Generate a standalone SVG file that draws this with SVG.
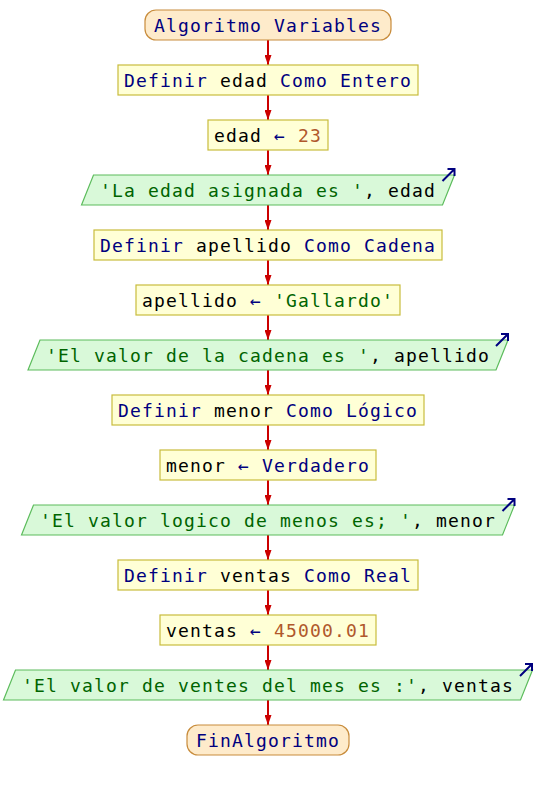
<svg xmlns="http://www.w3.org/2000/svg" width="536" height="790" viewBox="0 0 536 790">
  <style>
    text { font-family: "DejaVu Sans Mono", "Liberation Mono", monospace; font-size: 18px; letter-spacing: 1.16px; text-anchor: middle; }
    .term { fill: #feebcb; stroke: #c88c3c; stroke-width: 1.2; }
    .proc { fill: #ffffd6; stroke: #c8bc3c; stroke-width: 1.2; }
    .out  { fill: #d9f9d9; stroke: #5cbc5c; stroke-width: 1.2; }
    .kw { fill: #00007f; }
    .id { fill: #000000; }
    .str { fill: #006400; }
    .num { fill: #b0582c; }
    .op { fill: #00007f; }
    .flow { stroke: #cc0000; stroke-width: 2; fill: none; }
    .ico { stroke: #00007f; stroke-width: 2; fill: none; }
  </style>
  <defs>
    <marker id="head" markerUnits="userSpaceOnUse" markerWidth="10" markerHeight="7" refX="10" refY="3.5" orient="auto">
      <path d="M0,0 L10,3.5 L0,7 Z" fill="#cc0000"/>
    </marker>
    <!-- output marker: small arrow at the top-right corner of output shapes -->
    <g id="outIcon">
      <path class="ico" d="M-12,6 L-1,-5 M-7,-6 L0,-6 L0,1"/>
    </g>
  </defs>

  <rect width="536" height="790" fill="#ffffff"/>

  <g id="connectors">
    <line class="flow" x1="268" y1="40" x2="268" y2="65" marker-end="url(#head)"/>
    <line class="flow" x1="268" y1="95" x2="268" y2="120" marker-end="url(#head)"/>
    <line class="flow" x1="268" y1="150" x2="268" y2="175" marker-end="url(#head)"/>
    <line class="flow" x1="268" y1="205" x2="268" y2="230" marker-end="url(#head)"/>
    <line class="flow" x1="268" y1="260" x2="268" y2="285" marker-end="url(#head)"/>
    <line class="flow" x1="268" y1="315" x2="268" y2="340" marker-end="url(#head)"/>
    <line class="flow" x1="268" y1="370" x2="268" y2="395" marker-end="url(#head)"/>
    <line class="flow" x1="268" y1="425" x2="268" y2="450" marker-end="url(#head)"/>
    <line class="flow" x1="268" y1="480" x2="268" y2="505" marker-end="url(#head)"/>
    <line class="flow" x1="268" y1="535" x2="268" y2="560" marker-end="url(#head)"/>
    <line class="flow" x1="268" y1="590" x2="268" y2="615" marker-end="url(#head)"/>
    <line class="flow" x1="268" y1="645" x2="268" y2="670" marker-end="url(#head)"/>
    <line class="flow" x1="268" y1="700" x2="268" y2="725" marker-end="url(#head)"/>
  </g>

  <g id="start">
    <rect class="term" x="145" y="10" width="246" height="30" rx="11" ry="11"/>
    <text x="268" y="32"><tspan class="kw">Algoritmo Variables</tspan></text>
  </g>

  <g id="def-edad">
    <rect class="proc" x="118" y="65" width="300" height="30"/>
    <text x="268" y="87"><tspan class="kw">Definir </tspan><tspan class="id">edad</tspan><tspan class="kw"> Como Entero</tspan></text>
  </g>

  <g id="set-edad">
    <rect class="proc" x="208" y="120" width="120" height="30"/>
    <text x="268" y="142"><tspan class="id">edad </tspan><tspan class="op">←</tspan><tspan class="num"> 23</tspan></text>
  </g>

  <g id="out-edad">
    <polygon class="out" points="81.5,205 93.5,175 454.5,175 442.5,205"/>
    <use href="#outIcon" x="454.5" y="175"/>
    <text x="268" y="197"><tspan class="str">'La edad asignada es '</tspan><tspan class="id">, edad</tspan></text>
  </g>

  <g id="def-apellido">
    <rect class="proc" x="94" y="230" width="348" height="30"/>
    <text x="268" y="252"><tspan class="kw">Definir </tspan><tspan class="id">apellido</tspan><tspan class="kw"> Como Cadena</tspan></text>
  </g>

  <g id="set-apellido">
    <rect class="proc" x="136" y="285" width="264" height="30"/>
    <text x="268" y="307"><tspan class="id">apellido </tspan><tspan class="op">←</tspan><tspan class="str"> 'Gallardo'</tspan></text>
  </g>

  <g id="out-apellido">
    <polygon class="out" points="28,370 40,340 508,340 496,370"/>
    <use href="#outIcon" x="508" y="340"/>
    <text x="268" y="362"><tspan class="str">'El valor de la cadena es '</tspan><tspan class="id">, apellido</tspan></text>
  </g>

  <g id="def-menor">
    <rect class="proc" x="112" y="395" width="312" height="30"/>
    <text x="268" y="417"><tspan class="kw">Definir </tspan><tspan class="id">menor</tspan><tspan class="kw"> Como Lógico</tspan></text>
  </g>

  <g id="set-menor">
    <rect class="proc" x="160" y="450" width="216" height="30"/>
    <text x="268" y="472"><tspan class="id">menor </tspan><tspan class="op">←</tspan><tspan class="kw"> Verdadero</tspan></text>
  </g>

  <g id="out-menor">
    <polygon class="out" points="21.5,535 33.5,505 514.5,505 502.5,535"/>
    <use href="#outIcon" x="514.5" y="505"/>
    <text x="268" y="527"><tspan class="str">'El valor logico de menos es; '</tspan><tspan class="id">, menor</tspan></text>
  </g>

  <g id="def-ventas">
    <rect class="proc" x="118" y="560" width="300" height="30"/>
    <text x="268" y="582"><tspan class="kw">Definir </tspan><tspan class="id">ventas</tspan><tspan class="kw"> Como Real</tspan></text>
  </g>

  <g id="set-ventas">
    <rect class="proc" x="160" y="615" width="216" height="30"/>
    <text x="268" y="637"><tspan class="id">ventas </tspan><tspan class="op">←</tspan><tspan class="num"> 45000.01</tspan></text>
  </g>

  <g id="out-ventas">
    <polygon class="out" points="3.5,700 15.5,670 532.5,670 520.5,700"/>
    <use href="#outIcon" x="532" y="670"/>
    <text x="268" y="692"><tspan class="str">'El valor de ventes del mes es :'</tspan><tspan class="id">, ventas</tspan></text>
  </g>

  <g id="end">
    <rect class="term" x="187" y="725" width="162" height="30" rx="11" ry="11"/>
    <text x="268" y="747"><tspan class="kw">FinAlgoritmo</tspan></text>
  </g>
</svg>
